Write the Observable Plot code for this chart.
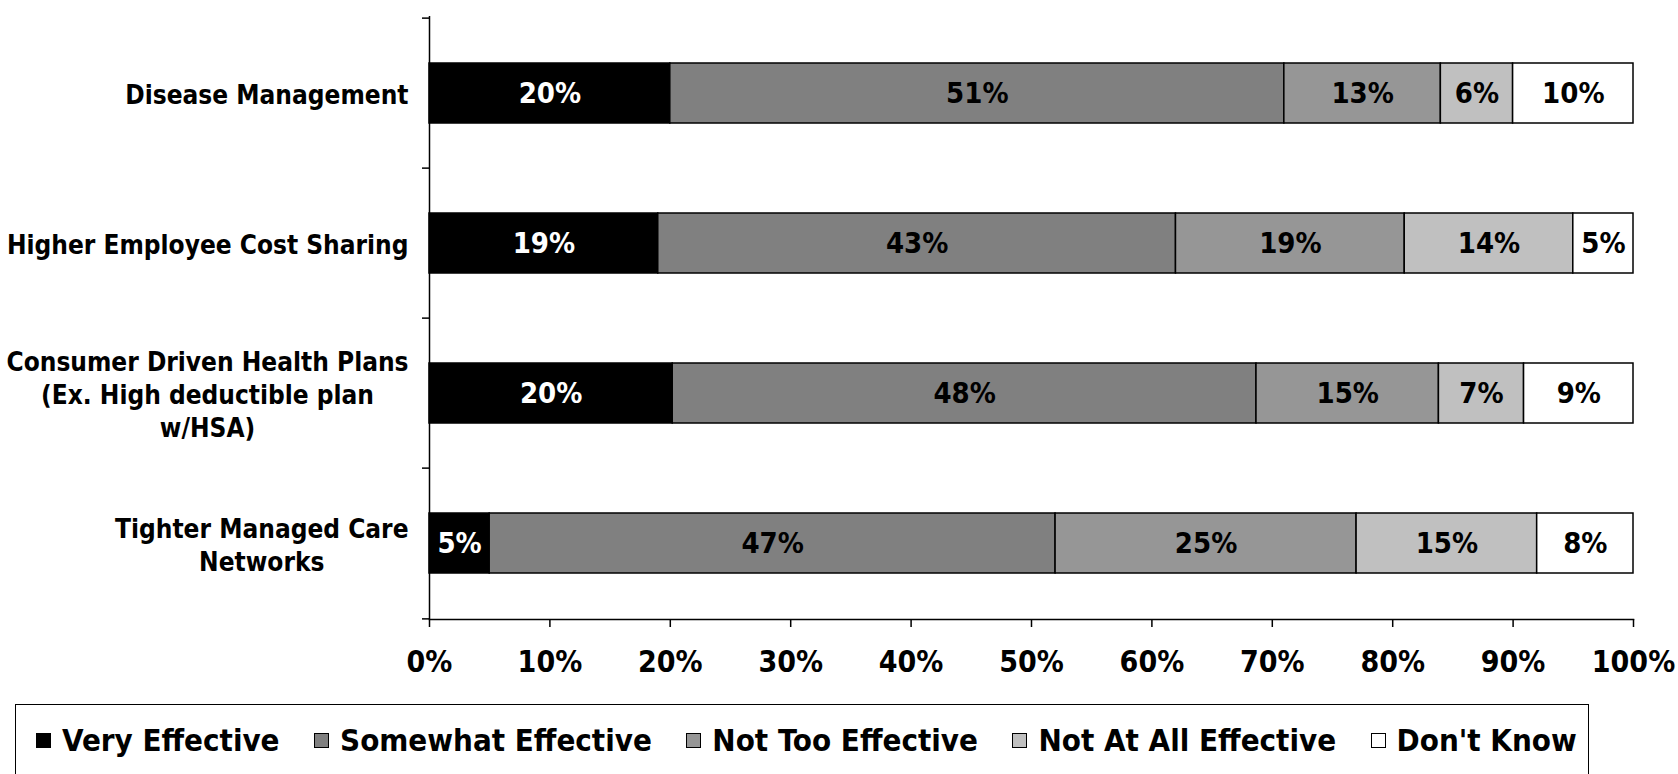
<!DOCTYPE html>
<html>
<head>
<meta charset="utf-8">
<script src="https://cdn.jsdelivr.net/npm/d3@7"></script>
<script src="https://cdn.jsdelivr.net/npm/@observablehq/plot@0.6"></script>
<style>
  html, body { margin: 0; padding: 0; background: #fff; overflow: hidden; }
  body { font-family: "DejaVu Sans Condensed", "DejaVu Sans", sans-serif; font-weight: bold; }
  #chart { position: absolute; left: 0; top: 0; }
  #legend {
    position: absolute; left: 15px; top: 704px; width: 1574px; height: 110px;
    border: 1.5px solid #000; box-sizing: border-box;
    display: flex; align-items: flex-start; padding: 17px 0 0 20px;
    font-size: 31px; color: #000;
  }
  .item { display: flex; align-items: center; margin-right: 34.5px; white-space: nowrap; }
  .swatch { width: 15px; height: 15px; border: 1.5px solid #000; box-sizing: border-box; margin-right: 11px; }
</style>
</head>
<body>
<div id="chart"></div>
<div id="legend"></div>
<script>
// Survey: perceived effectiveness of cost-containment strategies
const categories = [
  "Disease Management",
  "Higher Employee Cost Sharing",
  "Consumer Driven Health Plans\n(Ex. High deductible plan\nw/HSA)",
  "Tighter Managed Care\nNetworks"
];
const responses = ["Very Effective", "Somewhat Effective", "Not Too Effective", "Not At All Effective", "Don't Know"];
const veryEffective     = [20, 19, 20, 5];
const somewhatEffective = [51, 43, 48, 47];
const notTooEffective   = [13, 19, 15, 25];
const notAtAllEffective = [6, 14, 7, 15];
const dontKnow          = [10, 5, 9, 8];
const responseColors = ["#000000", "#808080", "#969696", "#c0c0c0", "#ffffff"];
const xTickValues = [0, 10, 20, 30, 40, 50, 60, 70, 80, 90, 100];

const series = [veryEffective, somewhatEffective, notTooEffective, notAtAllEffective, dontKnow];
const rows = [];
categories.forEach((category, i) => {
  responses.forEach((response, j) => {
    rows.push({category, response, value: series[j][i]});
  });
});

const W = 1678, H = 700;
const marginLeft = 429, marginRight = 45, marginTop = 16, marginBottom = 81;
const fontSize = 26;
const fontFamily = "'DejaVu Sans Condensed', 'DejaVu Sans', sans-serif";
const step = (H - marginTop - marginBottom) / categories.length;

// measure label blocks so multi-line labels are centred within a right-aligned block
const ctx = document.createElement("canvas").getContext("2d");
ctx.font = `bold ${fontSize}px ${fontFamily}`;
const blockWidth = (s) => Math.max(...s.split("\n").map((l) => ctx.measureText(l).width));

const stackOpts = {x: "value", y: "category", order: responses, offset: "normalize"};
const isVery = (d) => d.response === "Very Effective";

const marks = [
  Plot.barX(rows, Plot.stackX({...stackOpts, fill: "response", stroke: "#000", strokeWidth: 1.5})),
  Plot.text(rows, Plot.stackX({...stackOpts, z: "response", fontSize: 29,
    text: (d) => (isVery(d) ? d.value + "%" : null), fill: "#fff"})),
  Plot.text(rows, Plot.stackX({...stackOpts, z: "response", fontSize: 29,
    text: (d) => (isVery(d) ? null : d.value + "%"), fill: "#000"})),
  // vertical axis line and category boundary ticks
  Plot.ruleX([0], {stroke: "#000", strokeWidth: 1.5}),
  Plot.ruleY(categories, {y: (d) => d, x1: 0, x2: 0, insetLeft: -7, dy: -step / 2, stroke: "#000", strokeWidth: 1.5}),
  Plot.ruleY(categories.slice(-1), {y: (d) => d, x1: 0, x2: 0, insetLeft: -7, dy: step / 2, stroke: "#000", strokeWidth: 1.5}),
  Plot.frame({anchor: "bottom", stroke: "#000", strokeWidth: 1.5}),
  Plot.axisX({
    ticks: xTickValues.map((v) => v / 100),
    tickFormat: (d) => Math.round(d * 100) + "%",
    label: null, fontSize: 30,
    tickSize: 8, tickPadding: 23, strokeWidth: 1.5, fill: "#000", stroke: "#000"
  }),
  ...categories.map((c) => Plot.text([c], {
    y: (d) => d, text: (d) => d, frameAnchor: "left", textAnchor: "middle",
    lineAnchor: "middle", lineHeight: 1.28, fill: "#000",
    dx: -(21 + blockWidth(c) / 2)
  }))
];

const chart = Plot.plot({
  width: W, height: H,
  marginLeft, marginRight, marginTop, marginBottom,
  style: {fontFamily, fontSize: fontSize + "px", fontWeight: "bold", background: "#fff", color: "#000"},
  x: {domain: [0, 1], axis: null},
  y: {domain: categories, paddingInner: 0.6, paddingOuter: 0.3, axis: null},
  color: {domain: responses, range: responseColors, type: "ordinal"},
  marks
});
document.getElementById("chart").append(chart);

const legend = document.getElementById("legend");
responses.forEach((r, j) => {
  const item = document.createElement("div");
  item.className = "item";
  const sw = document.createElement("div");
  sw.className = "swatch";
  sw.style.background = responseColors[j];
  const label = document.createElement("span");
  label.textContent = r;
  item.append(sw, label);
  legend.append(item);
});
</script>
</body>
</html>
